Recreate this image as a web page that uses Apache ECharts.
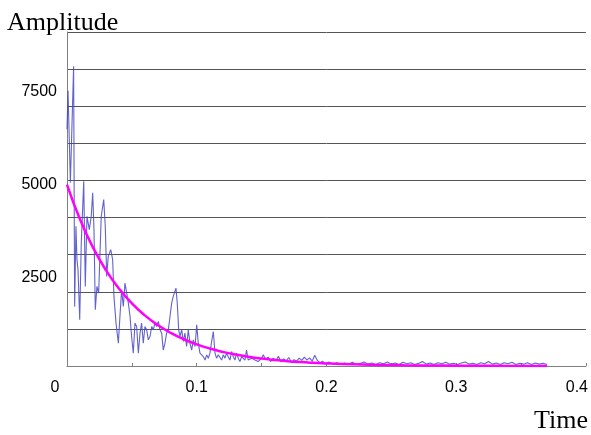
<!DOCTYPE html>
<html>
<head>
<meta charset="utf-8">
<script src="https://cdn.jsdelivr.net/npm/echarts@6/dist/echarts.min.js"></script>
<style>
  html, body { margin: 0; padding: 0; background: #fff; }
  #chart { width: 591px; height: 435px; }
</style>
</head>
<body>
<div id="chart"></div>
<script>
// measured signal (blue)
const sigTime = [
  0.0000, 0.0008, 0.0026, 0.0051, 0.0059, 0.0069, 0.0077, 0.0085, 0.0098, 0.0110,
  0.0129, 0.0141, 0.0154, 0.0172, 0.0187, 0.0198, 0.0208, 0.0218, 0.0231, 0.0244,
  0.0264, 0.0283, 0.0295, 0.0306, 0.0318, 0.0337, 0.0352, 0.0362, 0.0378, 0.0396,
  0.0408, 0.0421, 0.0434, 0.0447, 0.0460, 0.0473, 0.0486, 0.0498, 0.0511, 0.0524,
  0.0537, 0.0550, 0.0563, 0.0575, 0.0588, 0.0601, 0.0614, 0.0627, 0.0640, 0.0653,
  0.0665, 0.0678, 0.0691, 0.0704, 0.0717, 0.0730, 0.0742, 0.0755, 0.0768, 0.0781,
  0.0794, 0.0807, 0.0819, 0.0840, 0.0850, 0.0861, 0.0871, 0.0884, 0.0897, 0.0909,
  0.0922, 0.0935, 0.0948, 0.0961, 0.0974, 0.0987, 0.1000, 0.1012, 0.1025, 0.1038,
  0.1051, 0.1064, 0.1077, 0.1089, 0.1102, 0.1115, 0.1128, 0.1141, 0.1153, 0.1166,
  0.1179, 0.1192, 0.1205, 0.1218, 0.1230, 0.1243, 0.1256, 0.1269, 0.1282, 0.1295,
  0.1307, 0.1320, 0.1333, 0.1346, 0.1372, 0.1384, 0.1397, 0.1423, 0.1449, 0.1474,
  0.1500, 0.1513, 0.153, 0.155, 0.157, 0.159, 0.161, 0.163, 0.165, 0.167,
  0.169, 0.171, 0.173, 0.175, 0.177, 0.179, 0.181, 0.183, 0.185, 0.187,
  0.189, 0.191, 0.193, 0.195, 0.197, 0.199, 0.202, 0.205, 0.208, 0.211,
  0.214, 0.217, 0.220, 0.223, 0.226, 0.229, 0.232, 0.235, 0.238, 0.241,
  0.244, 0.247, 0.250, 0.253, 0.256, 0.259, 0.262, 0.265, 0.268, 0.271,
  0.274, 0.277, 0.280, 0.283, 0.286, 0.289, 0.292, 0.295, 0.298, 0.301,
  0.304, 0.307, 0.310, 0.313, 0.316, 0.319, 0.322, 0.325, 0.328, 0.331,
  0.334, 0.337, 0.340, 0.343, 0.346, 0.349, 0.352, 0.355, 0.358, 0.361,
  0.364, 0.367, 0.370
];
const sigAmp = [
  6380, 7415, 4940, 8075, 1600, 3765, 2865, 2595, 1245, 3315,
  4980, 2145, 4035, 3675, 4035, 4670, 3675, 1515, 2145, 1965,
  4035, 4485, 3765, 2415, 2955, 3135, 2865, 1875, 1155, 615,
  1335, 2055, 1605, 2235, 2190, 1695, 1335, 795, 345, 1155,
  1065, 345, 885, 1155, 615, 1065, 975, 705, 795, 1065,
  975, 1155, 1065, 1200, 975, 885, 430, 615, 885, 975,
  1335, 1695, 1875, 2100, 1695, 975, 795, 975, 660, 885,
  525, 975, 615, 430, 705, 525, 1110, 615, 345, 390,
  250, 160, 300, 210, 345, 660, 930, 345, 210, 300,
  250, 160, 300, 210, 345, 250, 160, 390, 250, 160,
  345, 210, 120, 250, 160, 430, 160, 210, 160, 120,
  210, 300, 180, 240, 120, 210, 150, 260, 110, 190,
  140, 230, 100, 170, 130, 210, 150, 240, 160, 220,
  130, 290, 150, 90, 130, 60, 110, 50, 90, 40,
  80, 50, 100, 40, 70, 110, 50, 80, 40, 90,
  60, 110, 50, 80, 40, 100, 60, 90, 40, 70,
  120, 50, 80, 40, 90, 60, 100, 50, 70, 40,
  80, 110, 50, 70, 40, 90, 60, 120, 50, 80,
  40, 90, 60, 100, 40, 70, 50, 90, 40, 80,
  50, 70, 40
];

// fitted decay curve (magenta)
const fitTime = [0, 0.01, 0.02, 0.03, 0.04, 0.05, 0.06, 0.07, 0.08, 0.09, 0.10,
  0.11, 0.12, 0.13, 0.14, 0.15, 0.16, 0.17, 0.18, 0.19, 0.20,
  0.22, 0.24, 0.26, 0.28, 0.30, 0.32, 0.34, 0.37];
const fitAmp = [4890, 3953, 3195, 2583, 2088, 1688, 1364, 1103, 891, 721, 583,
  471, 381, 308, 249, 201, 163, 131, 106, 86, 69,
  45, 30, 19, 13, 8, 5, 3, 2];

const yLabels = [2500, 5000, 7500];
const xLabels = [0, 0.1, 0.2, 0.3, 0.4];

const chart = echarts.init(document.getElementById('chart'));
const tickFont = { fontFamily: 'Liberation Sans, Arial, sans-serif', fontSize: 16, color: '#000' };

chart.setOption({
  animation: false,
  backgroundColor: '#fff',
  grid: { left: 67, right: 5, top: 32, bottom: 69 },
  xAxis: {
    type: 'value',
    min: 0, max: 0.4, interval: 0.05,
    axisLine: { lineStyle: { color: '#808080', width: 1 } },
    axisTick: { inside: true, length: 3, lineStyle: { color: '#808080' } },
    splitLine: { show: false },
    axisLabel: Object.assign({}, tickFont, {
      margin: 14,
      formatter: function (v) {
        const r = Number(v.toFixed(2));
        if (!xLabels.some(x => Math.abs(x - r) < 1e-6)) return '';
        if (r === 0) return '{l|0}';
        if (r === 0.4) return '{r|0.4}';
        return String(r);
      },
      rich: {
        l: Object.assign({}, tickFont, { padding: [0, 24, 0, 0] }),
        r: Object.assign({}, tickFont, { padding: [0, 18, 0, 0] })
      }
    })
  },
  yAxis: [
    {
      type: 'value',
      min: 0, max: 9000, interval: 1000,
      axisLine: { show: true, lineStyle: { color: '#808080', width: 1 } },
      axisTick: { show: false },
      axisLabel: { show: false },
      splitLine: { show: true, lineStyle: { color: '#555', width: 1 } }
    },
    {
      type: 'value',
      position: 'left',
      min: 0, max: 9000, interval: 2500,
      axisLine: { show: false },
      axisTick: { show: false },
      splitLine: { show: false },
      axisLabel: Object.assign({}, tickFont, {
        margin: 10,
        formatter: v => (yLabels.indexOf(v) >= 0 ? '{a|' + v + '}' : ''),
        rich: {
          a: Object.assign({}, tickFont, { padding: [8, 0, 0, 0] })
        }
      })
    }
  ],
  graphic: [
    {
      type: 'text', left: 7, top: 10,
      style: { text: 'Amplitude', font: '26px "Liberation Serif", "Times New Roman", serif', fill: '#000' }
    },
    {
      type: 'text', right: 3, top: 408,
      style: { text: 'Time', font: '26px "Liberation Serif", "Times New Roman", serif', fill: '#000' }
    }
  ],
  series: [
    {
      type: 'line',
      yAxisIndex: 0,
      data: sigTime.map((t, i) => [t, sigAmp[i]]),
      showSymbol: false,
      lineStyle: { color: '#4646c4', width: 1.1, opacity: 0.85 },
      z: 2
    },
    {
      type: 'line',
      yAxisIndex: 0,
      data: fitTime.map((t, i) => [t, fitAmp[i]]),
      showSymbol: false,
      smooth: true,
      lineStyle: { color: '#ff00ff', width: 2.5 },
      z: 3
    }
  ]
});
</script>
</body>
</html>
